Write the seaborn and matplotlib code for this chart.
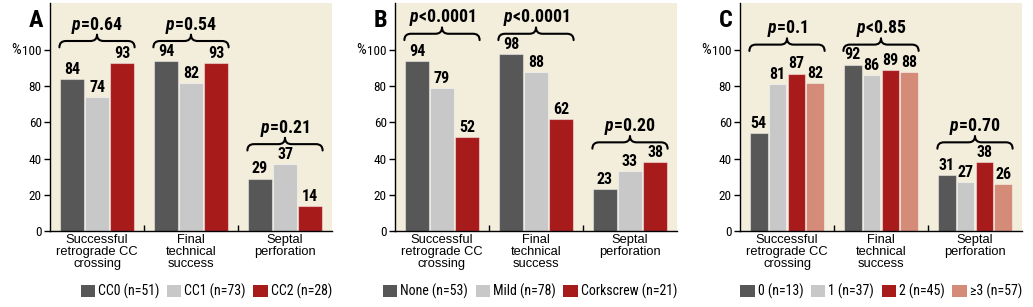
import numpy as np
import pandas as pd
import matplotlib
matplotlib.use('Agg')
import matplotlib.pyplot as plt
import matplotlib.transforms as mtransforms
from matplotlib.path import Path
from matplotlib.patches import PathPatch, Patch
from matplotlib import font_manager
import seaborn as sns

# ---------------- data ----------------
categories = ["Successful\nretrograde CC\ncrossing", "Final\ntechnical\nsuccess", "Septal\nperforation"]

# Panel A
a_groups = ["CC0 (n=51)", "CC1 (n=73)", "CC2 (n=28)"]
a_cc0 = [84, 94, 29]
a_cc1 = [74, 82, 37]
a_cc2 = [93, 93, 14]
a_p = ["=0.64", "=0.54", "=0.21"]

# Panel B
b_groups = ["None (n=53)", "Mild (n=78)", "Corkscrew (n=21)"]
b_none = [94, 98, 23]
b_mild = [79, 88, 33]
b_cork = [52, 62, 38]
b_p = ["<0.0001", "<0.0001", "=0.20"]

# Panel C
c_groups = ["0 (n=13)", "1 (n=37)", "2 (n=45)", "\u22653 (n=57)"]
c_0 = [54, 92, 31]
c_1 = [81, 86, 27]
c_2 = [87, 89, 38]
c_3 = [82, 88, 26]
c_p = ["=0.1", "<0.85", "=0.70"]

yticks = [0, 20, 40, 60, 80, 100]

# ---------------- style ----------------
DARK, LIGHT, RED, SALMON = "#575757", "#c8c8c8", "#a81b1b", "#d48b78"
BG = "#f3eedc"

sns.set_style("ticks")
names = {f.name for f in font_manager.fontManager.ttflist}


def pick(options, default="DejaVu Sans"):
    for o in options:
        if o in names:
            return o
    return default


NARROW = pick(["Roboto Condensed", "Archivo Narrow", "PT Sans Narrow", "Asap Condensed",
               "Liberation Sans Narrow"], "Liberation Sans")
REG = pick(["Liberation Sans", "Arimo", "Roboto"])
plt.rcParams["font.family"] = [NARROW, "DejaVu Sans"]
plt.rcParams["mathtext.fontset"] = "custom"
plt.rcParams["mathtext.it"] = f"{NARROW}:italic:bold"
plt.rcParams["text.color"] = "black"
plt.rcParams["axes.edgecolor"] = "black"
plt.rcParams["xtick.color"] = "black"
plt.rcParams["ytick.color"] = "black"


def draw_brace(ax, x0, x1, y, h=3.5, r=0.07):
    xm = (x0 + x1) / 2
    verts = [(x0, y - h), (x0, y), (x0 + r, y),
             (xm - r, y), (xm, y), (xm, y + h),
             (xm, y), (xm + r, y),
             (x1 - r, y), (x1, y), (x1, y - h)]
    codes = [Path.MOVETO, Path.CURVE3, Path.CURVE3,
             Path.LINETO, Path.CURVE3, Path.CURVE3,
             Path.CURVE3, Path.CURVE3,
             Path.LINETO, Path.CURVE3, Path.CURVE3]
    ax.add_patch(PathPatch(Path(verts, codes), facecolor="none", edgecolor="black",
                           lw=1.5, capstyle="round", joinstyle="round", clip_on=False))


def panel(ax, letter, groups, series, pvals, colors):
    rows = []
    for g, vals in zip(groups, series):
        for c, v in zip(categories, vals):
            rows.append({"cat": c, "grp": g, "val": v})
    df = pd.DataFrame(rows)
    sns.barplot(data=df, x="cat", y="val", hue="grp", order=categories, hue_order=groups,
                palette=colors, width=0.8, gap=0.06, saturation=1, edgecolor=(1, 1, 1, 0.45),
                linewidth=0.8, ax=ax, legend=False, errorbar=None)
    for cont in ax.containers:
        ax.bar_label(cont, fmt="%d", padding=1.5, fontsize=11.5, fontweight="bold")

    ax.set_facecolor(BG)
    ax.set_xlim(-0.5, 2.5)
    ax.set_ylim(0, 126)
    ax.set_yticks(yticks)
    ax.set_xlabel("")
    ax.set_ylabel("")
    ax.set_xticks(range(len(categories)))
    ax.set_xticklabels(categories, fontfamily=REG, fontsize=9.3, linespacing=0.98)
    ax.tick_params(axis="x", which="major", length=0, pad=2.5)
    ax.set_xticks([0.5, 1.5], minor=True)
    ax.tick_params(axis="x", which="minor", direction="in", length=4, width=1)
    ax.tick_params(axis="y", direction="out", length=4, width=1, labelsize=9.5, pad=2)
    for s in ["top", "right"]:
        ax.spines[s].set_visible(False)
    for s in ["left", "bottom"]:
        ax.spines[s].set_linewidth(1.0)

    trans = mtransforms.blended_transform_factory(ax.transAxes, ax.transData)
    ax.text(-0.102, 100, "%", transform=trans, ha="right", va="center", fontsize=11)
    ax.text(-0.05, 0.925, letter, transform=ax.transAxes, ha="center", va="center",
            fontsize=17.5, fontweight="bold")

    # braces with p-values
    maxes = [max(s[i] for s in series) for i in range(len(categories))]
    top = max(maxes[0], maxes[1]) + 11
    for i, p in enumerate(pvals):
        y = top if i < 2 else maxes[i] + 11
        draw_brace(ax, i - 0.4, i + 0.4, y)
        ax.text(i, y + 6.3, r"$\mathit{p}$" + p, ha="center", va="baseline",
                fontsize=12.8, fontweight="bold")

    handles = [Patch(facecolor=c, edgecolor="none") for c in colors]
    ax.legend(handles, groups, loc="center right", bbox_to_anchor=(1.0, -0.265),
              ncol=len(groups), frameon=False, fontsize=10, handlelength=1.05,
              handleheight=1.05, handletextpad=0.2, columnspacing=0.55,
              borderaxespad=0, borderpad=0)


fig = plt.figure(figsize=(10.33, 3.07), dpi=100)
fig.patch.set_facecolor("white")
W, H = 1033, 307
bottom = (H - 231) / H
height = 228 / H
width = 282 / W
axA = fig.add_axes([50 / W, bottom, width, height])
axB = fig.add_axes([395 / W, bottom, width, height])
axC = fig.add_axes([740 / W, bottom, width, height])

panel(axA, "A", a_groups, [a_cc0, a_cc1, a_cc2], a_p, [DARK, LIGHT, RED])
panel(axB, "B", b_groups, [b_none, b_mild, b_cork], b_p, [DARK, LIGHT, RED])
panel(axC, "C", c_groups, [c_0, c_1, c_2, c_3], c_p, [DARK, LIGHT, RED, SALMON])

fig.savefig("out.png", dpi=100)
